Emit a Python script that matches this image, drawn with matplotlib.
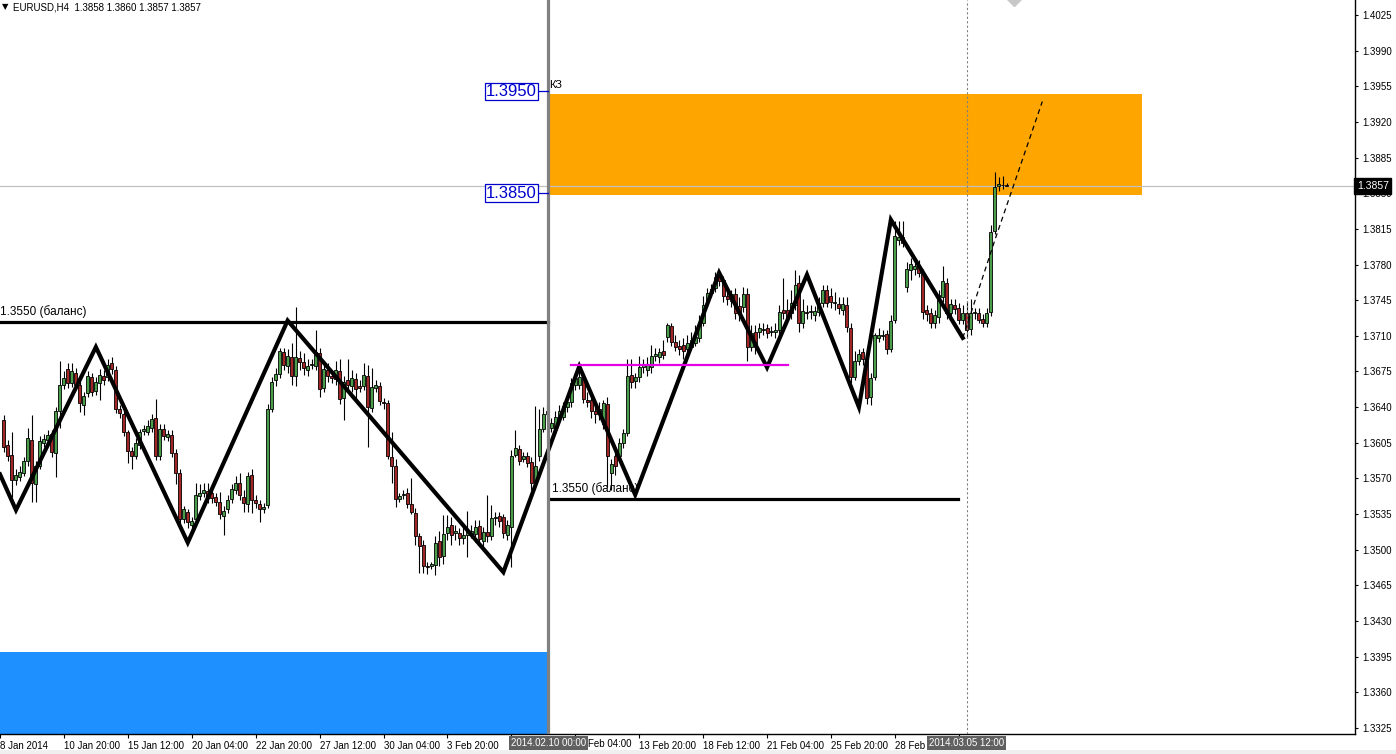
import matplotlib
matplotlib.use('Agg')
import matplotlib.pyplot as plt
import matplotlib.transforms as mtransforms
from matplotlib.patches import Rectangle
import numpy as np

plt.rcParams['font.family'] = ['Liberation Sans', 'DejaVu Sans']

# ---------------- data (EURUSD H4 candles) ----------------
opens = [
1.3627,1.3603,1.3593,1.3568,1.3571,1.3575,1.3587,1.3608,1.3565,1.3582,
1.3605,1.3608,1.3614,1.3595,1.3636,1.3662,1.3677,1.3664,1.3674,1.3662,
1.3642,1.3654,1.3670,1.3656,1.3664,1.3671,1.3670,1.3683,1.3676,1.3638,
1.3633,1.3616,1.3597,1.3592,1.3603,1.3617,1.3616,1.3620,1.3629,1.3592,
1.3619,1.3611,1.3613,1.3595,1.3575,1.3530,1.3537,1.3524,1.3530,1.3553,
1.3556,1.3558,1.3556,1.3552,1.3547,1.3533,1.3540,1.3550,1.3559,1.3566,
1.3552,1.3545,1.3573,1.3549,1.3545,1.3540,1.3544,1.3638,1.3667,1.3673,
1.3694,1.3680,1.3689,1.3671,1.3688,1.3684,1.3676,1.3681,1.3680,1.3693,
1.3659,1.3676,1.3671,1.3668,1.3675,1.3649,1.3667,1.3661,1.3668,1.3661,
1.3661,1.3671,1.3639,1.3659,1.3661,1.3645,1.3644,1.3591,1.3582,1.3550,
1.3554,1.3556,1.3545,1.3536,1.3513,1.3505,1.3484,1.3484,1.3485,1.3509,
1.3494,1.3516,1.3524,1.3516,1.3516,1.3512,1.3514,1.3515,1.3515,1.3523,
1.3509,1.3517,1.3513,1.3531,1.3533,1.3532,1.3514,1.3522,1.3593,1.3599,
1.3589,1.3592,1.3586,1.3566,1.3592,1.3619,1.3633,1.3620,1.3620,1.3630,
1.3630,1.3640,1.3645,1.3662,1.3662,1.3669,1.3647,1.3647,1.3636,1.3633,
1.3623,1.3643,1.3575,1.3592,1.3592,1.3605,1.3615,1.3672,1.3666,1.3670,
1.3679,1.3676,1.3679,1.3690,1.3689,1.3695,1.3709,1.3720,1.3704,1.3700,
1.3701,1.3697,1.3699,1.3703,1.3708,1.3723,1.3744,1.3752,1.3757,1.3769,
1.3765,1.3749,1.3744,1.3751,1.3739,1.3738,1.3751,1.3699,1.3714,1.3714,
1.3716,1.3718,1.3714,1.3714,1.3716,1.3735,1.3735,1.3732,1.3740,1.3762,
1.3723,1.3733,1.3733,1.3730,1.3733,1.3742,1.3755,1.3749,1.3742,1.3741,
1.3735,1.3740,1.3718,1.3670,1.3685,1.3694,1.3685,1.3650,1.3670,1.3708,
1.3710,1.3712,1.3697,1.3726,1.3804,1.3807,1.3758,1.3775,1.3776,1.3779,
1.3772,1.3735,1.3732,1.3723,1.3728,1.3748,1.3762,1.3732,1.3740,1.3737,
1.3726,1.3732,1.3717,1.3732,1.3732,1.3727,1.3723,1.3733,1.3813,1.3857,
1.3858,1.3858]
highs = [
1.3632,1.3608,1.3616,1.3579,1.3582,1.3591,1.3620,1.3632,1.3587,1.3612,
1.3614,1.3618,1.3618,1.3640,1.3685,1.3675,1.3683,1.3683,1.3678,1.3666,
1.3655,1.3675,1.3674,1.3670,1.3677,1.3676,1.3687,1.3689,1.3680,1.3642,
1.3636,1.3618,1.3601,1.3610,1.3619,1.3622,1.3627,1.3633,1.3648,1.3623,
1.3623,1.3618,1.3618,1.3599,1.3579,1.3543,1.3540,1.3532,1.3566,1.3565,
1.3566,1.3566,1.3563,1.3556,1.3557,1.3543,1.3554,1.3565,1.3572,1.3575,
1.3559,1.3576,1.3579,1.3554,1.3549,1.3546,1.3643,1.3670,1.3678,1.3698,
1.3698,1.3697,1.3703,1.3738,1.3695,1.3693,1.3687,1.3687,1.3716,1.3698,
1.3683,1.3683,1.3676,1.3685,1.3687,1.3671,1.3687,1.3676,1.3674,1.3667,
1.3683,1.3681,1.3678,1.3667,1.3665,1.3649,1.3647,1.3616,1.3589,1.3556,
1.3559,1.3561,1.3570,1.3541,1.3516,1.3510,1.3488,1.3488,1.3513,1.3518,
1.3534,1.3534,1.3532,1.3524,1.3521,1.3524,1.3538,1.3524,1.3529,1.3529,
1.3522,1.3554,1.3544,1.3537,1.3537,1.3535,1.3529,1.3598,1.3618,1.3603,
1.3596,1.3596,1.3591,1.3641,1.3638,1.3640,1.3642,1.3629,1.3636,1.3642,
1.3645,1.3649,1.3669,1.3674,1.3680,1.3674,1.3655,1.3652,1.3642,1.3645,
1.3647,1.3650,1.3589,1.3596,1.3610,1.3619,1.3687,1.3687,1.3674,1.3690,
1.3687,1.3689,1.3701,1.3698,1.3698,1.3706,1.3723,1.3723,1.3711,1.3706,
1.3708,1.3711,1.3714,1.3721,1.3730,1.3749,1.3757,1.3761,1.3773,1.3773,
1.3769,1.3753,1.3755,1.3757,1.3748,1.3758,1.3757,1.3721,1.3721,1.3723,
1.3723,1.3722,1.3720,1.3723,1.3740,1.3767,1.3746,1.3755,1.3775,1.3770,
1.3746,1.3740,1.3740,1.3739,1.3748,1.3760,1.3760,1.3757,1.3753,1.3748,
1.3748,1.3748,1.3723,1.3695,1.3697,1.3698,1.3692,1.3674,1.3713,1.3718,
1.3716,1.3716,1.3730,1.3823,1.3823,1.3823,1.3782,1.3786,1.3786,1.3784,
1.3776,1.3740,1.3737,1.3735,1.3755,1.3779,1.3767,1.3746,1.3746,1.3742,
1.3740,1.3744,1.3746,1.3737,1.3737,1.3731,1.3737,1.3819,1.3871,1.3866,
1.3867,1.3860]
lows = [
1.3596,1.3587,1.3552,1.3564,1.3567,1.3572,1.3582,1.3547,1.3547,1.3579,
1.3601,1.3603,1.3591,1.3571,1.3620,1.3658,1.3659,1.3660,1.3657,1.3635,
1.3632,1.3650,1.3651,1.3652,1.3647,1.3662,1.3666,1.3673,1.3634,1.3629,
1.3612,1.3585,1.3579,1.3589,1.3599,1.3613,1.3613,1.3616,1.3588,1.3588,
1.3608,1.3607,1.3591,1.3565,1.3526,1.3526,1.3521,1.3519,1.3527,1.3549,
1.3552,1.3546,1.3546,1.3543,1.3530,1.3514,1.3536,1.3546,1.3555,1.3549,
1.3537,1.3537,1.3536,1.3541,1.3527,1.3536,1.3541,1.3635,1.3661,1.3669,
1.3676,1.3674,1.3662,1.3661,1.3676,1.3672,1.3671,1.3677,1.3676,1.3650,
1.3655,1.3665,1.3664,1.3662,1.3643,1.3627,1.3655,1.3655,1.3649,1.3655,
1.3657,1.3601,1.3635,1.3655,1.3642,1.3638,1.3589,1.3566,1.3542,1.3547,
1.3550,1.3541,1.3535,1.3505,1.3477,1.3477,1.3476,1.3481,1.3475,1.3484,
1.3486,1.3510,1.3505,1.3510,1.3505,1.3506,1.3493,1.3512,1.3508,1.3507,
1.3504,1.3508,1.3510,1.3524,1.3522,1.3512,1.3510,1.3483,1.3591,1.3583,
1.3586,1.3581,1.3559,1.3562,1.3587,1.3616,1.3625,1.3616,1.3616,1.3624,
1.3627,1.3635,1.3640,1.3657,1.3658,1.3644,1.3640,1.3629,1.3624,1.3627,
1.3619,1.3562,1.3559,1.3573,1.3587,1.3600,1.3612,1.3659,1.3659,1.3665,
1.3674,1.3671,1.3674,1.3685,1.3683,1.3687,1.3704,1.3700,1.3695,1.3691,
1.3687,1.3692,1.3696,1.3700,1.3704,1.3720,1.3739,1.3748,1.3753,1.3759,
1.3743,1.3740,1.3738,1.3727,1.3725,1.3733,1.3685,1.3695,1.3692,1.3708,
1.3711,1.3708,1.3710,1.3708,1.3711,1.3727,1.3723,1.3727,1.3735,1.3714,
1.3718,1.3727,1.3727,1.3725,1.3729,1.3738,1.3738,1.3737,1.3735,1.3731,
1.3730,1.3714,1.3664,1.3667,1.3681,1.3681,1.3643,1.3642,1.3667,1.3704,
1.3706,1.3692,1.3694,1.3723,1.3799,1.3797,1.3753,1.3765,1.3770,1.3768,
1.3727,1.3725,1.3718,1.3718,1.3723,1.3743,1.3727,1.3727,1.3731,1.3722,
1.3722,1.3708,1.3711,1.3727,1.3723,1.3719,1.3719,1.3729,1.3810,1.3852,
1.3854,1.3857]
closes = [
1.3601,1.3592,1.3568,1.3573,1.3576,1.3587,1.3610,1.3566,1.3582,1.3607,
1.3609,1.3613,1.3596,1.3636,1.3662,1.3669,1.3664,1.3675,1.3662,1.3644,
1.3651,1.3671,1.3655,1.3665,1.3672,1.3667,1.3681,1.3677,1.3638,1.3634,
1.3616,1.3597,1.3592,1.3605,1.3616,1.3619,1.3621,1.3628,1.3592,1.3619,
1.3612,1.3614,1.3595,1.3575,1.3530,1.3540,1.3527,1.3528,1.3554,1.3556,
1.3559,1.3551,1.3551,1.3547,1.3535,1.3538,1.3549,1.3560,1.3566,1.3554,
1.3546,1.3572,1.3549,1.3546,1.3540,1.3542,1.3638,1.3665,1.3673,1.3695,
1.3681,1.3690,1.3671,1.3689,1.3684,1.3678,1.3680,1.3682,1.3694,1.3658,
1.3677,1.3671,1.3669,1.3676,1.3648,1.3665,1.3662,1.3669,1.3658,1.3659,
1.3672,1.3640,1.3660,1.3662,1.3646,1.3644,1.3592,1.3582,1.3550,1.3553,
1.3555,1.3545,1.3537,1.3513,1.3504,1.3484,1.3483,1.3486,1.3507,1.3493,
1.3515,1.3522,1.3514,1.3518,1.3512,1.3514,1.3519,1.3518,1.3522,1.3511,
1.3517,1.3513,1.3531,1.3532,1.3528,1.3516,1.3524,1.3592,1.3600,1.3587,
1.3592,1.3585,1.3566,1.3582,1.3619,1.3633,1.3636,1.3624,1.3630,1.3636,
1.3641,1.3645,1.3664,1.3669,1.3670,1.3648,1.3645,1.3636,1.3633,1.3638,
1.3644,1.3592,1.3584,1.3582,1.3605,1.3615,1.3671,1.3665,1.3670,1.3679,
1.3681,1.3681,1.3690,1.3692,1.3694,1.3691,1.3721,1.3704,1.3699,1.3697,
1.3695,1.3703,1.3706,1.3709,1.3723,1.3740,1.3752,1.3756,1.3768,1.3764,
1.3749,1.3746,1.3751,1.3732,1.3732,1.3751,1.3699,1.3713,1.3699,1.3718,
1.3717,1.3713,1.3715,1.3716,1.3733,1.3732,1.3728,1.3742,1.3760,1.3723,
1.3734,1.3732,1.3734,1.3734,1.3742,1.3755,1.3742,1.3743,1.3743,1.3737,
1.3741,1.3719,1.3670,1.3685,1.3692,1.3687,1.3649,1.3669,1.3711,1.3711,
1.3711,1.3697,1.3725,1.3808,1.3807,1.3801,1.3776,1.3781,1.3779,1.3772,
1.3733,1.3731,1.3723,1.3730,1.3750,1.3764,1.3732,1.3741,1.3736,1.3726,
1.3732,1.3716,1.3732,1.3733,1.3726,1.3723,1.3732,1.3812,1.3856,1.3859,
1.3858,1.3857]

# time axis: tick bars and the label text visible beside each tick
time_tick_bars = [-1, 15, 31, 47, 63, 79, 95, 111, 127, 143, 159, 175, 191, 207, 223, 239]
time_tick_labels = ['8 Jan 2014', '10 Jan 20:00', '15 Jan 12:00', '20 Jan 04:00',
                    '22 Jan 20:00', '27 Jan 12:00', '30 Jan 04:00', '3 Feb 20:00',
                    '', '', '13 Feb 20:00', '18 Feb 12:00',
                    '21 Feb 04:00', '25 Feb 20:00', '28 Feb', '']
partial_label_bar = 146.2
partial_label_text = 'Feb 04:00'
price_ticks = [1.3325, 1.3360, 1.3395, 1.3430, 1.3465, 1.3500, 1.3535, 1.3570,
               1.3605, 1.3640, 1.3675, 1.3710, 1.3745, 1.3780, 1.3815, 1.3850,
               1.3885, 1.3920, 1.3955, 1.3990, 1.4025]

# analysis objects
zigzag_bars = [-1, 3, 23, 46, 71, 125, 144, 158, 179, 191, 201, 214, 222, 240]
zigzag_prices = [1.3574, 1.3539, 1.3699, 1.3507, 1.3725, 1.3478, 1.3680, 1.3554,
                 1.3772, 1.3679, 1.3770, 1.3640, 1.3824, 1.3708]
projection_bars = [240, 248.2, 259.9]
projection_prices = [1.3708, 1.3806, 1.3940]
balance1_price = 1.3724
balance1_bars = (-1.0, 136.2)
balance2_price = 1.3550
balance2_bars = (136.9, 238.9)
magenta_price = 1.3681
magenta_bars = (142.0, 196.2)
zone_top, zone_bottom = 1.3947, 1.3848
zone_bars = (136.2, 284.9)
blue_top = 1.3400
blue_bars = (-1.0, 136.0)
bid_price = 1.3857
vline_bar = 136.2
vline2_bar = 241
label_levels = [1.3950, 1.3850]

# ---------------- figure ----------------
W, H = 1396, 754
AX_W = 1355
fig = plt.figure(figsize=(W / 100, H / 100), dpi=100)
fig.patch.set_facecolor('white')
ax = fig.add_axes([0, 20 / H, AX_W / W, 734 / H])
ax.set_facecolor('white')
ax.set_xlim(-0.575, (AX_W - 2.3) / 4)
ax.set_ylim(1.33191, 1.40397)

for s in ['left', 'top']:
    ax.spines[s].set_visible(False)
for s in ['right', 'bottom']:
    ax.spines[s].set_linewidth(1.0)
    ax.spines[s].set_color('black')

# rectangles
ax.add_patch(Rectangle((blue_bars[0], 1.3300), blue_bars[1] - blue_bars[0], blue_top - 1.3300,
                       facecolor='#1E90FF', edgecolor='none', zorder=1))
ax.add_patch(Rectangle((zone_bars[0], zone_bottom), zone_bars[1] - zone_bars[0], zone_top - zone_bottom,
                       facecolor='#FFA500', edgecolor='none', zorder=1))

# bid line
ax.axhline(bid_price, color='#c0c0c0', lw=0.9, zorder=1.5)

# candles
x = np.arange(len(opens))
o = np.array(opens); c = np.array(closes); hi = np.array(highs); lo = np.array(lows)
ax.vlines(x, lo, hi, colors='black', linewidth=0.8, zorder=3)
up = c >= o
colors = np.where(up, '#4a9e4a', '#a32626')
ax.bar(x, np.abs(c - o), bottom=np.minimum(o, c), width=0.75, color=colors,
       edgecolor='black', linewidth=0.6, zorder=3.1)

# zigzag
ax.plot(zigzag_bars, zigzag_prices, color='black', lw=3.0, zorder=4, solid_joinstyle='miter')
ax.plot(projection_bars, projection_prices, color='black', lw=0.9, ls=(0, (4, 3)), zorder=4)

# horizontal lines
ax.plot(balance1_bars, [balance1_price] * 2, color='black', lw=2.3, zorder=4)
ax.plot(balance2_bars, [balance2_price] * 2, color='black', lw=2.3, zorder=4)
ax.plot(magenta_bars, [magenta_price] * 2, color='#e600e6', lw=1.6, zorder=4)

ax.annotate('1.3550 (баланс)', (-0.9, balance1_price), xytext=(0, 2.5),
            textcoords='offset points', ha='left', va='bottom', fontsize=8.5, zorder=6)
ax.annotate('1.3550 (баланс)', (137.2, balance2_price), xytext=(0, 2.5),
            textcoords='offset points', ha='left', va='bottom', fontsize=8.5, zorder=6)

# vertical lines
ax.axvline(vline_bar, color='#808080', lw=2.3, zorder=5)
ax.axvline(vline2_bar, color='#808080', lw=0.8, ls=(0, (2, 2)), zorder=5)

# zone labels
for lv in label_levels:
    ax.text(133.4, lv, f'{lv:.4f}', ha='right', va='center', fontsize=12, color='#0000cd',
            zorder=6, bbox=dict(boxstyle='square,pad=0.08', fc='white', ec='#0000cd', lw=0.9))
    ax.plot([133.9, 136.2], [lv, lv], color='#0000cd', lw=0.9, zorder=6)
ax.text(136.5, 1.3956, 'КЗ', ha='left', va='center', fontsize=8, zorder=6)

# arrow marker at the top
ax.plot([252.7], [1.4041], marker='D', ms=7, color='#c8c8c8', zorder=6, clip_on=False)

# axes ticks
ax.yaxis.tick_right()
ax.set_yticks(price_ticks, [f'{v:.4f}' for v in price_ticks])
ax.tick_params(axis='y', direction='out', length=2.5, width=0.8, pad=2.5, labelsize=7, colors='black')
ax.set_xticks(time_tick_bars, time_tick_labels)
ax.tick_params(axis='x', direction='out', length=3, width=0.8, pad=2, labelsize=7)
for lbl in ax.get_xticklabels():
    lbl.set_ha('left')

blend_xd = mtransforms.blended_transform_factory(ax.transData, ax.transAxes)
ax.text(partial_label_bar, -0.0068, partial_label_text, transform=blend_xd, ha='left', va='top',
        fontsize=7, clip_on=False)
for b, txt in [(vline_bar, '2014.02.10 00:00'), (vline2_bar, '2014.03.05 12:00')]:
    ax.text(b, -0.0055, txt, transform=blend_xd, ha='center', va='top', fontsize=7,
            color='white', zorder=7, clip_on=False,
            bbox=dict(boxstyle='square,pad=0.2', fc='#606060', ec='none'))

blend_ad = mtransforms.blended_transform_factory(ax.transAxes, ax.transData)
ax.text(1 + 2 / AX_W, bid_price, f'{bid_price:.4f}', transform=blend_ad, ha='left', va='center',
        fontsize=7.5, color='white', zorder=7, clip_on=False,
        bbox=dict(boxstyle='square,pad=0.25', fc='black', ec='black'))

# header
fig.text(2 / W, 1 - 7 / H, '▼', fontsize=6, va='center', ha='left', family='DejaVu Sans')
fig.text(13 / W, 1 - 7 / H, 'EURUSD,H4  1.3858 1.3860 1.3857 1.3857', fontsize=7, va='center', ha='left')

fig.add_artist(Rectangle((0, 0), 1, 4 / H, transform=fig.transFigure, facecolor='#f0f0f0',
                         edgecolor='none'))

fig.savefig('out.png', dpi=100)
